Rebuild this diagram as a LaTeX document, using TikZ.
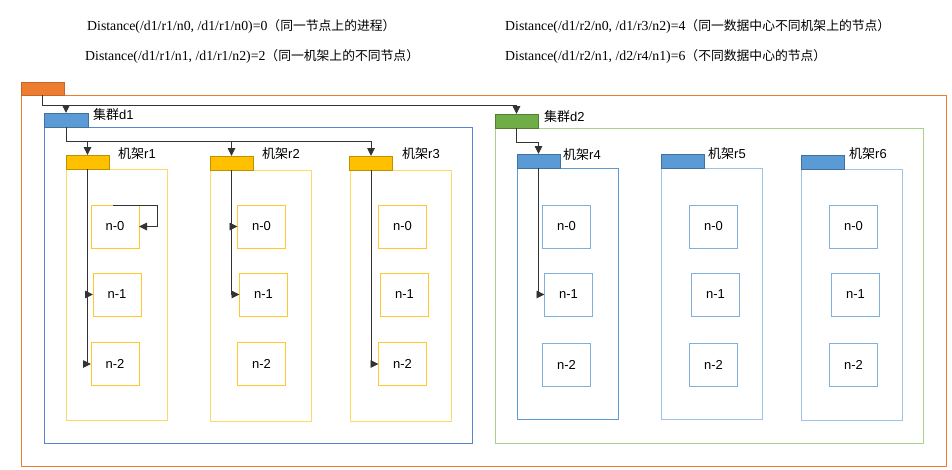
\documentclass[tikz,border=0pt]{standalone}
\usepackage{fontspec}
\setmainfont{Liberation Serif}
\newfontfamily\cjk{Noto Sans CJK SC}
\newfontfamily\lab{Liberation Sans}
\usetikzlibrary{arrows.meta}
\definecolor{orng}{HTML}{ED7D31}
\definecolor{orngd}{HTML}{C9652A}
\definecolor{bluet}{HTML}{5B9BD5}
\definecolor{bluetd}{HTML}{41719C}
\definecolor{blued1}{HTML}{5B84D0}
\definecolor{yelt}{HTML}{FFC000}
\definecolor{yeltd}{HTML}{BF9000}
\definecolor{yelbox}{HTML}{FFD966}
\definecolor{yelnode}{HTML}{FFC72C}
\definecolor{grnt}{HTML}{70AD47}
\definecolor{grntd}{HTML}{507E32}
\definecolor{grnbox}{HTML}{A9D18E}
\definecolor{lbbox}{HTML}{9DC3E6}
\definecolor{lbnode}{HTML}{7FB0DE}
\definecolor{connc}{HTML}{333333}
\tikzset{
  tab/.style={draw, line width=0.9pt, inner sep=0pt, outer sep=0pt, minimum width=43pt, minimum height=14pt},
  frame/.style={draw, line width=1pt, inner sep=0pt, outer sep=0pt},
  rackbox/.style={frame, minimum width=101pt, minimum height=251pt},
  nbox/.style={draw, line width=1pt, inner sep=0pt, outer sep=0pt, minimum width=48pt, minimum height=43pt, font=\lab\fontsize{13pt}{15pt}\selectfont},
  lbl/.style={anchor=west, inner sep=0pt, font=\lab\fontsize{13pt}{15pt}\selectfont},
  hdr/.style={anchor=base west, inner sep=0pt, font=\fontsize{13.8pt}{16pt}\selectfont},
  conn/.style={draw=connc, line width=0.9pt, -{Triangle[length=8pt,width=7.5pt]}},
  connl/.style={draw=connc, line width=0.9pt}
}
\newcommand{\cj}[1]{{\cjk\fontsize{12.8pt}{15pt}\selectfont #1}}
\begin{document}
\begin{tikzpicture}[x=1pt,y=-1pt]
\useasboundingbox (0,0) rectangle (952,469);
% header
\node[hdr] (h1) at (87,30) {Distance(/d1/r1/n0, /d1/r1/n0)=0\cj{（同一节点上的进程）}};
\node[hdr] (h2) at (85,60) {Distance(/d1/r1/n1, /d1/r1/n2)=2\cj{（同一机架上的不同节点）}};
\node[hdr] (h3) at (505,30) {Distance(/d1/r2/n0, /d1/r3/n2)=4\cj{（同一数据中心不同机架上的节点）}};
\node[hdr] (h4) at (505,60) {Distance(/d1/r2/n1, /d2/r4/n1)=6\cj{（不同数据中心的节点）}};
% outer
\node[frame, draw=orng, minimum width=925pt, minimum height=371pt] (outer) at (483.5,280.5) {};
\node[tab, fill=orng, draw=orngd, minimum height=13pt] (otab) at (42.5,88.5) {};
% data centres
\node[frame, draw=blued1, minimum width=428pt, minimum height=316pt] (d1box) at (258,285) {};
\node[tab, fill=bluet, draw=bluetd, minimum width=44pt] (d1tab) at (66,120) {};
\node[lbl] (d1lbl) at (93,115) {{\cjk 集群}d1};
\node[frame, draw=grnbox, minimum width=428pt, minimum height=315pt] (d2box) at (709,285.5) {};
\node[tab, fill=grnt, draw=grntd] (d2tab) at (516.5,121) {};
\node[lbl] (d2lbl) at (544,116.5) {{\cjk 集群}d2};
% racks in d1
\node[rackbox, draw=yelbox] (r1box) at (117,294.5) {};
\node[tab, fill=yelt, draw=yeltd] (r1tab) at (87.5,162) {};
\node[lbl] (r1lbl) at (118,154) {{\cjk 机架}r1};
\node[rackbox, draw=yelbox] (r2box) at (260.5,295.5) {};
\node[tab, fill=yelt, draw=yeltd] (r2tab) at (231.5,163) {};
\node[lbl] (r2lbl) at (262,154) {{\cjk 机架}r2};
\node[rackbox, draw=yelbox] (r3box) at (400.5,295.5) {};
\node[tab, fill=yelt, draw=yeltd] (r3tab) at (371,163) {};
\node[lbl] (r3lbl) at (402,154) {{\cjk 机架}r3};
% racks in d2
\node[rackbox, draw=bluet] (r4box) at (568,293.5) {};
\node[tab, fill=bluet, draw=bluetd] (r4tab) at (538.5,161) {};
\node[lbl] (r4lbl) at (563,155) {{\cjk 机架}r4};
\node[rackbox, draw=lbbox] (r5box) at (712,293.5) {};
\node[tab, fill=bluet, draw=bluetd] (r5tab) at (683,161.5) {};
\node[lbl] (r5lbl) at (708,154) {{\cjk 机架}r5};
\node[rackbox, draw=lbbox] (r6box) at (851.5,294.5) {};
\node[tab, fill=bluet, draw=bluetd] (r6tab) at (822.5,162) {};
\node[lbl] (r6lbl) at (849,154) {{\cjk 机架}r6};
% nodes
\node[nbox, draw=yelnode] (r1n0) at (115,226.5) {n-0};
\node[nbox, draw=yelnode] (r1n1) at (117,294.5) {n-1};
\node[nbox, draw=yelnode] (r1n2) at (115,364) {n-2};
\node[nbox, draw=yelnode] (r2n0) at (261.5,226.5) {n-0};
\node[nbox, draw=yelnode] (r2n1) at (263.5,294.5) {n-1};
\node[nbox, draw=yelnode] (r2n2) at (261.5,364) {n-2};
\node[nbox, draw=yelnode] (r3n0) at (402.5,226.5) {n-0};
\node[nbox, draw=yelnode] (r3n1) at (404.5,294.5) {n-1};
\node[nbox, draw=yelnode] (r3n2) at (402.5,364) {n-2};
\node[nbox, draw=lbnode] (r4n0) at (566.5,226.5) {n-0};
\node[nbox, draw=lbnode] (r4n1) at (568.5,294.5) {n-1};
\node[nbox, draw=lbnode] (r4n2) at (566.5,364.5) {n-2};
\node[nbox, draw=lbnode] (r5n0) at (713.5,226.5) {n-0};
\node[nbox, draw=lbnode] (r5n1) at (715.5,294.5) {n-1};
\node[nbox, draw=lbnode] (r5n2) at (713.5,364.5) {n-2};
\node[nbox, draw=lbnode] (r6n0) at (853.5,226.5) {n-0};
\node[nbox, draw=lbnode] (r6n1) at (855.5,294.5) {n-1};
\node[nbox, draw=lbnode] (r6n2) at (853.5,364.5) {n-2};
% connectors
\draw[conn] (otab.south) -- ++(0,10) -| (d1tab.north);
\draw[conn] (otab.south) -- ++(0,10) -| (d2tab.north);
\draw[conn] (d1tab.south) -- ++(0,14) -| (r1tab.north);
\draw[conn] (d1tab.south) -- ++(0,14) -| (r2tab.north);
\draw[conn] (d1tab.south) -- ++(0,14) -| (r3tab.north);
\draw[conn] (d2tab.south) -- ++(0,14) -| (r4tab.north);
\draw[conn] (r1tab.south) |- (r1n1.west);
\draw[conn] (r1tab.south) |- (r1n2.west);
\draw[conn] ([xshift=-2pt]r1n0.north) -- ++(44,0) |- (r1n0.east);
\draw[conn] (r2tab.south) |- (r2n0.west);
\draw[conn] (r2tab.south) |- (r2n1.west);
\draw[conn] (r3tab.south) |- (r3n2.west);
\draw[conn] (r4tab.south) |- (r4n1.west);
\end{tikzpicture}
\end{document}
